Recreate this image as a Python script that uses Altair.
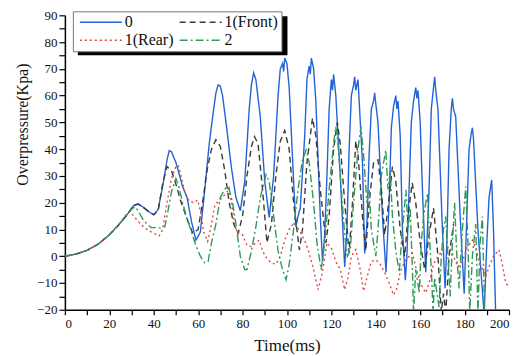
import altair as alt
import pandas as pd

SERIES = ["0", "1(Front)", "1(Rear)", "2"]
COLORS = ["#2463d6", "#3a3a3a", "#e04848", "#2f9a57"]
DASHES = [[1, 0], [6, 4], [2, 3], [8, 3, 2, 3]]

# Series "0"
T0 = [0, 5, 10, 15, 20, 24, 28, 31, 33, 35, 38, 40, 42, 44, 46, 47, 48, 50, 52, 53, 55, 57, 59, 61, 63, 65, 67, 68, 69, 70,
      71, 73, 75, 77, 79, 81, 83, 84, 85, 86, 88, 90, 92, 94, 96, 97, 98, 98.5, 99, 100, 101, 103, 104, 105, 106, 108, 109,
      110, 110.5, 111, 112, 113, 115, 116, 117, 118, 119, 120, 120.5, 121, 122, 124, 126, 127, 128, 129, 130, 130.5, 131,
      132, 134, 135, 136, 137, 138, 139, 139.5, 140, 141, 143, 144.6, 146, 147, 148, 149, 149.5, 150, 151, 152, 153.3, 154,
      155, 156, 157, 158, 158.5, 159, 160, 161, 162.5, 164, 165, 166, 166.5, 167, 168, 170, 171.2, 172, 173, 174, 174.5,
      175, 176, 178, 179.8, 181, 182, 183, 183.5, 184, 186, 188.8, 190, 191, 192.2, 193, 194]
V0 = [0, 0.8, 2.2, 4.5, 8, 11.5, 15.5, 19, 19.5, 18.5, 16.5, 15.5, 17.5, 26, 36, 39.5, 39, 35, 29, 26, 22, 13, 6, 9, 25, 42,
      55, 61, 64, 63.5, 60, 47, 33, 22, 17, 28, 55, 64, 68.5, 66, 52, 28, 14.5, 30, 60, 70, 72, 69, 74, 72, 63, 28, 11, 15, 18,
      45, 66, 71, 68, 74, 70, 58, 15, -2, 8, 30, 55, 66, 62, 68, 60, 30, -4, 10, 40, 60, 64, 67, 62, 66, 35, 1, 12, 38, 55, 58,
      61, 57, 50, 15, -6, 20, 48, 56, 60, 55, 58, 45, 10, -9, 0, 25, 50, 58, 63, 59, 62, 50, 25, -6, 25, 55, 63, 67, 62, 55,
      10, -12, 5, 40, 55, 59, 55, 52, 15, -14, 15, 40, 46, 48, 44, 10, -22, 5, 22, 28.5, 10, -22]

# Series "1(Front)"
T1F = [0, 5, 10, 15, 20, 24, 28, 31, 33, 35, 38, 40, 42, 44, 46, 48, 50, 52, 55, 57.6, 60, 62, 64, 66, 68, 70, 72, 74, 76,
       78, 80, 82, 84, 85.4, 87, 89, 91, 93, 95, 97, 99, 101, 103, 105.6, 107, 109, 111.5, 113, 115, 117.6, 119, 121, 122.7,
       124, 126, 128, 129.5, 131, 132, 134, 135.5, 137, 139, 141, 142.5, 144, 145.5, 147.5, 149, 151, 153, 154.5, 156.4, 158,
       160, 162, 164, 166, 168, 169.5, 170.5, 171.5, 173, 175]
V1F = [0, 0.8, 2.2, 4.5, 8, 11.5, 15.5, 19, 19.5, 18.5, 16.5, 15.5, 17, 27, 33.5, 32, 27, 21, 14, 8.5, 10, 20, 32, 40, 43.5,
       41, 32, 20, 12, 8.5, 15, 30, 41, 44.7, 42, 25, 5, 12, 30, 43, 47, 40, 20, 2.4, 10, 35, 51.6, 45, 25, 5, 15, 40, 50, 42,
       20, 1.3, 20, 43, 38, 15, 2, 20, 35, 36, 25, 8, 18, 33.5, 28, 10, 0, 15, 27.4, 20, 5, -5, 8, 18, 0, -21, -14, -21, 0, 12]

# Series "1(Rear)"
T1R = [0, 5, 10, 15, 20, 24, 27, 29.2, 31, 33, 36, 39, 42.5, 44, 46, 48, 50, 51, 52, 54, 56, 58, 59.8, 61, 62.5, 64.3, 66,
       67.5, 69, 71, 73, 74, 75, 76.5, 78, 80, 82, 84, 86, 87.5, 89, 91, 93, 95, 97, 99, 101, 103, 104.5, 106, 108, 110, 112,
       114, 116, 118, 120, 122, 124, 126, 127.5, 129, 131, 133, 134.5, 136, 138, 140, 142, 144, 146, 148, 149.5, 151, 153,
       155, 156.5, 158, 160, 162.5, 164, 166, 168, 170, 173, 175, 177, 179, 181, 183.5, 185, 187, 189.5, 191, 193, 195.5,
       197, 198.5, 200]
V1R = [0, 0.8, 2.2, 4.5, 8, 11.5, 15, 16.7, 15, 13, 10.5, 9, 7.6, 10, 20, 29, 33.5, 34, 31, 24, 20.5, 20, 21, 17, 9, 5.5, 12,
       19, 20.5, 22, 24, 25.5, 20, 11, 9, 8, 4, 3.6, 5, 6, 2, -1, -2.5, -3, 0, 6, 10, 12.4, 11, 9, 6, 1.2, -5, -12.5, -6, 5,
       3, -2, -5, -12.5, -8, 0, 2.5, -5, -13, -8, -2, -1.3, -3, -6, -10, -14.5, -12, -6, -2, 0, 1.2, -4, -10, -13.7, -10,
       -3, 0, 2, 3.6, 0, -4, -2, 3, 6, 3, -3, -7.6, -4, 0, 2.4, -3, -10, -11.3]

# Series "2"
T2 = [0, 5, 10, 15, 20, 24, 28, 30, 31.5, 33, 35, 37, 39, 41, 43, 45, 46, 48, 50, 51, 53, 55, 57, 59, 61, 63, 64.5, 66, 68,
      70, 72, 73, 74, 75.5, 77, 79, 81, 82, 84, 86, 88, 90.6, 92, 94, 96, 98, 99.6, 101, 103, 105, 107, 108.6, 110, 112,
      113.5, 115.4, 117, 119, 121, 122, 123, 124.5, 126, 127.2, 128.5, 130, 132, 133.3, 134.5, 136, 137, 138, 140, 141,
      142.5, 144.5, 145.5, 146.5, 147.5, 149, 150.6, 151.5, 153.6, 154.5, 155.5, 156.5, 157, 158, 159.6, 160.5, 161.5,
      163.3, 164, 165, 165.8, 166.5, 168.5, 169.5, 170.5, 171.5, 172.5, 173.5, 174.5, 175.5, 176.5, 177.5, 179, 180.5,
      181.5, 182.3, 183.5, 185, 186, 187, 188, 189, 190]
V2 = [0, 0.8, 2.2, 4.5, 8, 11.5, 15.5, 17.5, 18.5, 17, 14, 12, 10.6, 10.8, 10.5, 11, 15, 24, 29, 27, 20, 14, 9, 4, 0, -2.5,
      -2, 5, 12, 22, 25, 26, 25, 20, 12, 0, -5, -5, 2, 11, 22, 30.5, 28, 15, 2, -5, -8.8, -3, 10, 25, 36, 39.7, 35, 20, 5,
      -5, 5, 25, 42, 48.4, 42, 25, 8, 0, 2, 20, 40, 48.4, 38, 20, 25, 10, 0, 10, 30, 39.7, 25, 32, 15, 2, -6, 5, 24.8, 10, 18,
      -5, -21, -5, -13.7, 5, 15, 23.6, 10, -5, -21, -8, -19, 0, 10, 14.8, 0, -15, 5, 20, 0, -12, 10, 26, 5, -21, 0, 12, -21,
      5, 14.8, -21, -21]

X_TICKS = list(range(0, 201, 10))
Y_TICKS = list(range(-20, 91, 5))

rows = []
for name, ts, vs in [(SERIES[0], T0, V0), (SERIES[1], T1F, V1F), (SERIES[2], T1R, V1R), (SERIES[3], T2, V2)]:
    for t, v in zip(ts, vs):
        rows.append({"series": name, "t": t, "v": v})
df = pd.DataFrame(rows)

FONT = "Liberation Serif, Times New Roman, serif"

legend_kw = dict(title=None, orient="none", legendX=8, legendY=-4, direction="horizontal",
                 columns=2, symbolType="M-1,0H9.5", symbolSize=64,
                 symbolStrokeWidth=1.5, labelFont=FONT, labelFontSize=16,
                 labelColor="#111", labelOffset=33, columnPadding=2,
                 rowPadding=2, padding=3, fillColor="white",
                 strokeColor="#777", gridAlign="each")

lines = alt.Chart(df).mark_line(clip=True, strokeWidth=1.4).encode(
    x=alt.X("t:Q", scale=alt.Scale(domain=[0, 200], nice=False),
            axis=alt.Axis(values=X_TICKS, title="Time(ms)",
                          labelExpr="datum.value % 20 == 0 ? datum.label : ''",
                          grid=False, tickSize=5, labelPadding=3,
                          titleY=36, titleBaseline="middle")),
    y=alt.Y("v:Q", scale=alt.Scale(domain=[-20, 90], nice=False),
            axis=alt.Axis(values=Y_TICKS, title="Overpressure(Kpa)",
                          labelExpr="datum.value % 10 == 0 ? datum.label : ''",
                          grid=False, tickSize=6, labelPadding=2,
                          titleX=-42, titleY=109, titleBaseline="middle")),
    color=alt.Color("series:N", scale=alt.Scale(domain=SERIES, range=COLORS),
                    legend=alt.Legend(**legend_kw)),
    strokeDash=alt.StrokeDash("series:N", scale=alt.Scale(domain=SERIES, range=DASHES),
                              legend=alt.Legend(**legend_kw)),
)

shadow = alt.Chart(alt.Data(values=[{"k": 1}])).mark_rect(color="black").encode(
    x=alt.value(13), x2=alt.value(223), y=alt.value(1), y2=alt.value(40)
)

chart = alt.layer(shadow, lines).properties(
    width=445, height=295,
    padding={"left": 57, "top": 7, "right": 12, "bottom": 46},
    autosize=alt.AutoSizeParams(type="none"),
).configure_view(stroke=None).configure_axis(
    domainColor="black", domainWidth=1.5, tickColor="black", tickWidth=1.2,
    labelFont=FONT, labelFontSize=13, labelColor="#111",
    titleFont=FONT, titleFontSize=16, titleFontWeight="normal", titleColor="#111",
).configure_axisX(titleFontSize=17)

chart.save("out.html", embed_options={"renderer": "svg", "actions": False})
